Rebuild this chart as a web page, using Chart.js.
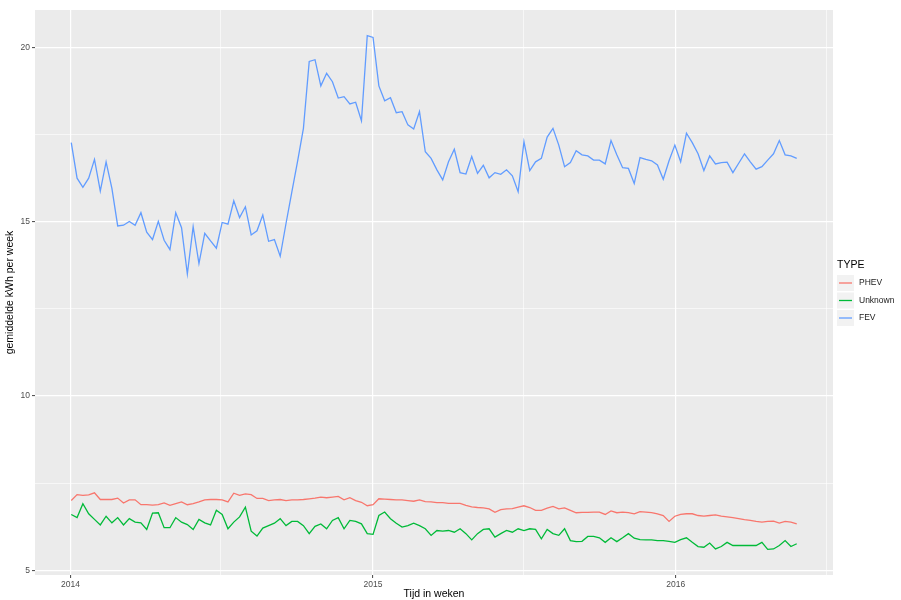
<!DOCTYPE html>
<html><head><meta charset="utf-8">
<script src="https://cdn.jsdelivr.net/npm/chart.js@4.4.0/dist/chart.umd.min.js"></script>
<style>html,body{margin:0;padding:0;background:#fff}#wrap{width:901px;height:600px;position:relative}</style>
</head><body><div id="wrap"><canvas id="c" width="901" height="600"></canvas></div>
<script>
// ---- data ----
const startDate = '2014-01-02';   // first weekly observation
const weekCount = 126;
const seriesNames = ['PHEV', 'Unknown', 'FEV'];
const phev = [7.00,7.17,7.15,7.16,7.22,7.03,7.03,7.03,7.07,6.93,7.02,7.02,6.88,6.88,6.87,6.88,6.93,6.86,6.91,6.96,
  6.88,6.91,6.96,7.02,7.03,7.03,7.02,6.96,7.21,7.15,7.19,7.17,7.06,7.06,7.00,7.02,7.03,7.00,7.02,7.02,
  7.03,7.05,7.07,7.10,7.08,7.10,7.12,7.02,7.08,7.00,6.95,6.85,6.88,7.05,7.04,7.03,7.02,7.02,7.00,6.98,
  7.02,6.97,6.96,6.94,6.94,6.92,6.92,6.92,6.86,6.82,6.80,6.79,6.76,6.66,6.74,6.76,6.77,6.81,6.85,6.80,
  6.72,6.72,6.78,6.83,6.76,6.79,6.72,6.65,6.66,6.66,6.67,6.67,6.60,6.70,6.65,6.67,6.65,6.62,6.68,6.67,
  6.65,6.62,6.57,6.40,6.55,6.60,6.62,6.62,6.57,6.55,6.57,6.59,6.55,6.53,6.51,6.48,6.45,6.43,6.40,6.38,
  6.40,6.41,6.35,6.40,6.38,6.33];
const unknown = [6.60,6.51,6.91,6.62,6.46,6.30,6.55,6.36,6.51,6.30,6.48,6.38,6.36,6.17,6.64,6.65,6.22,6.22,6.51,6.38,
  6.31,6.17,6.46,6.36,6.30,6.72,6.60,6.19,6.38,6.53,6.81,6.12,5.98,6.21,6.28,6.35,6.48,6.28,6.40,6.40,
  6.28,6.05,6.26,6.33,6.19,6.43,6.51,6.19,6.43,6.40,6.33,6.05,6.03,6.57,6.67,6.48,6.35,6.24,6.28,6.35,
  6.28,6.19,6.00,6.14,6.12,6.14,6.09,6.19,6.05,5.87,6.05,6.17,6.19,5.95,6.05,6.14,6.09,6.19,6.14,6.19,
  6.17,5.90,6.17,6.05,6.00,6.19,5.85,5.82,5.83,5.97,5.97,5.93,5.80,5.93,5.82,5.93,6.05,5.92,5.88,5.87,
  5.87,5.85,5.85,5.83,5.80,5.88,5.93,5.80,5.68,5.66,5.78,5.61,5.68,5.80,5.71,5.71,5.71,5.71,5.71,5.80,
  5.60,5.61,5.71,5.85,5.68,5.76];
const fev = [17.27,16.25,15.99,16.25,16.79,15.88,16.72,15.96,14.88,14.90,15.01,14.90,15.26,14.70,14.49,15.01,14.47,14.20,15.26,14.83,
  13.50,14.86,13.80,14.67,14.45,14.24,14.98,14.93,15.60,15.12,15.43,14.62,14.74,15.19,14.44,14.49,14.01,14.95,15.85,16.74,
  17.68,19.60,19.65,18.90,19.26,19.02,18.55,18.59,18.38,18.43,17.90,20.34,20.29,18.90,18.47,18.56,18.13,18.16,17.78,17.66,
  18.16,17.01,16.82,16.49,16.20,16.72,17.08,16.41,16.37,16.87,16.39,16.62,16.26,16.41,16.36,16.49,16.32,15.86,17.30,16.47,
  16.72,16.82,17.43,17.68,17.20,16.58,16.70,17.04,16.92,16.89,16.77,16.77,16.66,17.33,16.92,16.55,16.53,16.10,16.84,16.79,
  16.75,16.63,16.22,16.75,17.20,16.72,17.54,17.27,16.95,16.47,16.89,16.66,16.70,16.71,16.41,16.68,16.95,16.72,16.51,16.58,
  16.77,16.95,17.33,16.92,16.89,16.82];
const xTickYears = [2014, 2015, 2016];
const yTickValues = [5, 10, 15, 20];
const xTitle = 'Tijd in weken';
const yTitle = 'gemiddelde kWh per week';
const legendTitle = 'TYPE';
const seriesColors = ['#F8766D', '#00BA38', '#619CFF'];

// ---- helpers ----
const DAY = 86400000;
const T0 = Date.UTC(2014, 0, 1);
const dayOf = s => (Date.parse(s + 'T00:00:00Z') - T0) / DAY;
const weekDays = Array.from({length: weekCount}, (_, i) => dayOf(startDate) + 7 * i);
const seriesValues = [phev, unknown, fev];

const xLo = weekDays[0], xHi = weekDays[weekDays.length - 1];
const xMin = xLo - 0.05 * (xHi - xLo), xMax = xHi + 0.05 * (xHi - xLo);
const allV = seriesValues.flat();
const yLo = Math.min(...allV), yHi = Math.max(...allV);
const yMin = yLo - 0.05 * (yHi - yLo), yMax = yHi + 0.05 * (yHi - yLo);

const xTickObjs = [];
xTickYears.forEach(y => xTickObjs.push({value: dayOf(y + '-01-01'), lab: String(y), minor: false}));
[xTickYears[0] - 1, ...xTickYears].forEach(y => {
  const v = dayOf(y + '-07-01');
  if (v > xMin && v < xMax) xTickObjs.push({value: v, lab: '', minor: true});
});
xTickObjs.sort((a, b) => a.value - b.value);
const yStep = yTickValues[1] - yTickValues[0];
const yTickObjs = [];
yTickValues.forEach(v => yTickObjs.push({value: v, lab: String(v), minor: false}));
[yTickValues[0] - yStep, ...yTickValues].forEach(v => {
  const m = v + yStep / 2;
  if (m > yMin && m < yMax) yTickObjs.push({value: m, lab: '', minor: true});
});
yTickObjs.sort((a, b) => a.value - b.value);

const FONT = "'Liberation Sans', Arial, Helvetica, sans-serif";
Chart.defaults.font.family = FONT;

const bgPlugin = {
  id: 'panelBg',
  beforeDraw(chart) {
    const {ctx, chartArea: a} = chart;
    ctx.save();
    ctx.fillStyle = '#fff';
    ctx.fillRect(0, 0, chart.width, chart.height);
    ctx.fillStyle = '#EBEBEB';
    ctx.fillRect(a.left, a.top, a.right - a.left, a.bottom - a.top);
    ctx.restore();
  }
};

const legendPlugin = {
  id: 'ggLegend',
  afterDraw(chart) {
    const ctx = chart.ctx;
    const x0 = 837, titleY = 265, row0 = 283, rowH = 17.5;
    ctx.save();
    ctx.textBaseline = 'middle';
    ctx.textAlign = 'left';
    ctx.fillStyle = '#000';
    ctx.font = '10.5px ' + FONT;
    ctx.fillText(legendTitle, x0, titleY);
    chart.data.datasets.forEach((ds, k) => {
      const cy = row0 + rowH * k;
      ctx.fillStyle = '#F2F2F2';
      ctx.fillRect(x0, cy - 8, 17, 16);
      ctx.strokeStyle = ds.borderColor;
      ctx.lineWidth = 1.3;
      ctx.beginPath();
      ctx.moveTo(x0 + 2, cy);
      ctx.lineTo(x0 + 15, cy);
      ctx.stroke();
      ctx.fillStyle = '#1a1a1a';
      ctx.font = '8.5px ' + FONT;
      ctx.fillText(ds.label, x0 + 22, cy);
    });
    ctx.restore();
  }
};

const gridCommon = {
  color: '#FFFFFF',
  lineWidth: c => (c.tick && c.tick.minor) ? 0.6 : 1.2,
  drawTicks: true,
  tickLength: 3,
  tickWidth: 1,
  tickColor: c => (c.tick && c.tick.minor) ? 'rgba(0,0,0,0)' : '#444444'
};

new Chart(document.getElementById('c'), {
  type: 'line',
  data: {
    datasets: seriesNames.map((n, k) => ({
      label: n,
      data: weekDays.map((d, i) => ({x: d, y: seriesValues[k][i]})),
      borderColor: seriesColors[k],
      backgroundColor: seriesColors[k],
      borderWidth: 1.3,
      pointRadius: 0,
      fill: false,
      tension: 0
    }))
  },
  options: {
    responsive: false,
    animation: false,
    devicePixelRatio: 1,
    layout: {padding: {top: 10, right: 68, bottom: 0, left: 0}},
    plugins: {legend: {display: false}, tooltip: {enabled: false}},
    scales: {
      x: {
        type: 'linear', min: xMin, max: xMax,
        afterBuildTicks: s => { s.ticks = xTickObjs.map(t => ({...t})); },
        afterFit: s => { s.height = 25; },
        ticks: {autoSkip: false, maxRotation: 0, minRotation: 0, padding: 2, color: '#4D4D4D',
          font: {size: 8.5}, callback: (v, i, t) => t[i].lab},
        grid: gridCommon,
        border: {display: false},
        title: {display: true, text: xTitle, color: '#000', font: {size: 10.5}, padding: {top: 0, bottom: 0}}
      },
      y: {
        type: 'linear', min: yMin, max: yMax,
        afterBuildTicks: s => { s.ticks = yTickObjs.map(t => ({...t})); },
        afterFit: s => { s.width = 35; },
        ticks: {autoSkip: false, padding: 2, color: '#4D4D4D', font: {size: 8.5},
          callback: (v, i, t) => t[i].lab},
        grid: gridCommon,
        border: {display: false},
        title: {display: true, text: yTitle, color: '#000', font: {size: 10.5}, padding: {top: 3.5, bottom: 0}}
      }
    }
  },
  plugins: [bgPlugin, legendPlugin]
});
</script>
</body></html>
